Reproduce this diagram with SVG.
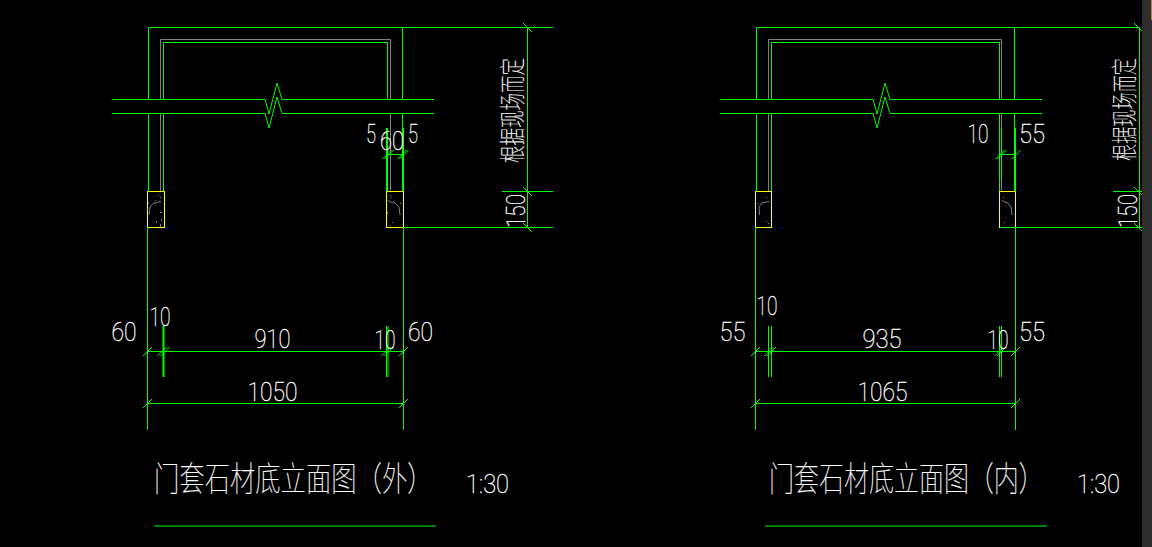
<svg xmlns="http://www.w3.org/2000/svg" width="1152" height="547" viewBox="0 0 1152 547">
<style>
.g{stroke:#00ff00;stroke-width:1;fill:none}
.t{stroke:#00ff00;stroke-width:2;fill:none}
.a{stroke:#808080;stroke-width:1;fill:none}
.y{stroke:#ffff00;stroke-width:1;fill:none}
.d{fill:#808080}
text{fill:#fff;stroke:#fff;stroke-width:.35;font-family:"Roboto","Liberation Sans",sans-serif;font-weight:100;font-size:26px}
.c{font-family:"Noto Sans CJK SC","Noto Sans CJK JP",sans-serif;font-weight:100;font-size:34px;stroke-width:.2}
.v{font-family:"Noto Sans CJK SC","Noto Sans CJK JP",sans-serif;font-weight:100;font-size:26px;stroke-width:.2}
</style>
<defs>
<path id="tf" class="g" d="M-4.500 4.500L4.500-4.500"/>
<path id="tb" class="g" d="M-4.500-4.500L4.500 4.500"/>
<path id="zz" class="g" d="M0 0L4 14.500L12-16.500L17 0"/>
</defs>
<rect width="1152" height="547" fill="#000"/>
<rect x="1142" y="0" width="10" height="547" fill="#2e2e2e"/>
<rect x="1151" y="0" width="1" height="20" fill="#b5803a"/>

<g id="view-outer">
<g id="frame-outer">
<path class="g" d="M148.500 99.500V27.500H553M402.500 27.500V99.500M148.500 113.500V191M402.500 113.500V128"/>
<path class="a" d="M160.500 99.500V39.500H390.500V99.500M160.500 113.500V191M390.500 113.500V191"/>
<path class="g" d="M163.500 99.500V42.500H387.500V99.500M163.500 113.500V191"/>
<path class="g" d="M112 99.500H265M282 99.500H434M112 113.500H265M282 113.500H434"/>
<use href="#zz" x="265" y="99.500"/><use href="#zz" x="265" y="113.500"/>
<path class="t" d="M387 128V191M403 128V191"/>
</g>
<g id="stone-left-outer">
<rect class="y" x="147.500" y="191.500" width="17" height="36"/>
<path class="a" d="M161 201.500L153 203.500L150 207L149 215"/>
<path class="d" d="M158 195h1v1h-1zM160 197h1v1h-1zM155 200h1v1h-1zM148 203h1v1h-1zM160 212h2v1h-2zM161 219h1v2h-1zM156 221h1v2h-1zM160 224h1v3h-1z"/>
</g>
<g id="stone-right-outer">
<rect class="y" x="386.500" y="191.500" width="17" height="36"/>
<path class="a" d="M389 201.500L395 203L399 207L400 215"/>
<path class="d" d="M390 195h1v1h-1zM391 197h1v1h-1zM388 200h1v1h-1zM400 203h1v1h-1zM387 212h1v2h-1zM392 222h1v1h-1zM389 225h1v1h-1z"/>
</g>
<g id="dims-outer">
<path class="g" d="M147.500 227V430M403.500 227V430M403.500 227.500H553M502 191.500H553M527.500 27.500V227.500M387 154.500H403M148 351.500H403M148 403.500H403"/>
<path class="t" d="M163.500 326V377"/>
<path class="g" d="M386.500 326V377M388 326V377"/>
<use href="#tb" x="527.500" y="27.500"/><use href="#tb" x="527.500" y="191.500"/><use href="#tb" x="527.500" y="227.500"/>
<use href="#tf" x="387" y="154.500"/><use href="#tf" x="389" y="154.500"/><use href="#tf" x="402" y="154.500"/><use href="#tf" x="404" y="154.500"/>
<use href="#tf" x="147.500" y="351.500"/><use href="#tf" x="162" y="351.500"/><use href="#tf" x="165" y="351.500"/><use href="#tf" x="386" y="351.500"/><use href="#tf" x="389" y="351.500"/><use href="#tf" x="403.500" y="351.500"/>
<use href="#tf" x="147.500" y="403.500"/><use href="#tf" x="403.500" y="403.500"/>
</g>
<g id="labels-outer">
<text x="371" y="143" text-anchor="middle" textLength="10" lengthAdjust="spacingAndGlyphs">5</text>
<text x="392" y="150" text-anchor="middle" textLength="24" lengthAdjust="spacingAndGlyphs">60</text>
<text x="413" y="143" text-anchor="middle" textLength="10" lengthAdjust="spacingAndGlyphs">5</text>
<text x="124" y="341" text-anchor="middle" textLength="25" lengthAdjust="spacingAndGlyphs">60</text>
<text x="160" y="326" text-anchor="middle" textLength="21" lengthAdjust="spacingAndGlyphs">10</text>
<text x="272.500" y="348" text-anchor="middle" textLength="36" lengthAdjust="spacingAndGlyphs">910</text>
<text x="385" y="349" text-anchor="middle" textLength="21" lengthAdjust="spacingAndGlyphs">10</text>
<text x="420.500" y="341" text-anchor="middle" textLength="25" lengthAdjust="spacingAndGlyphs">60</text>
<text x="272.500" y="401" text-anchor="middle" textLength="50" lengthAdjust="spacingAndGlyphs">1050</text>
<text class="v" transform="translate(522 163) rotate(-90)" textLength="105" lengthAdjust="spacingAndGlyphs">根据现场而定</text>
<text transform="translate(525 228) rotate(-90)" textLength="34" lengthAdjust="spacingAndGlyphs">150</text>
<text class="c" transform="translate(154 491) scale(.745 1)">门套石材底立面图（外）</text>
<text x="466" y="493" textLength="43" lengthAdjust="spacingAndGlyphs">1:30</text>
</g>
<path id="underline-outer" class="g" d="M154 526H436"/>
</g>

<g id="view-inner">
<g id="frame-inner">
<path class="g" d="M756.500 99.500V27.500H1139.500M1014.500 27.500V99.500M756.500 113.500V191M1014.500 113.500V128"/>
<path class="a" d="M768.500 99.500V39.500H1001.500V99.500M768.500 113.500V191M1001.500 113.500V128M1001.500 180V191"/>
<path class="g" d="M771.500 99.500V42.500H999.500V99.500M771.500 113.500V191M1001.500 128V180M999.500 113.500V191"/>
<path class="g" d="M720 99.500H873M890 99.500H1042M720 113.500H873M890 113.500H1042"/>
<use href="#zz" x="873" y="99.500"/><use href="#zz" x="873" y="113.500"/>
<path class="t" d="M1015 128V191"/>
</g>
<g id="stone-left-inner">
<rect class="y" x="755.500" y="191.500" width="16" height="36"/>
<path class="a" d="M769 201.500L762 203L759 207L759.500 215"/>
<path class="d" d="M766 197h1v1h-1zM758 203h1v1h-1zM766 221h1v1h-1zM768 223h1v1h-1z"/>
</g>
<g id="stone-right-inner">
<rect class="y" x="999.500" y="191.500" width="16" height="36"/>
<path class="a" d="M1003 201.500L1008 203L1011 207L1012 215"/>
<path class="d" d="M1003 197h1v1h-1zM1002 200h1v1h-1zM1004 222h1v1h-1z"/>
</g>
<g id="dims-inner">
<path class="g" d="M755.500 227V430M1015.500 227V430M1000 227.500H1142M1113 191.500H1142M1139.500 27.500V227.500M1000 154.500H1015M756 351.500H1016M756 403.500H1016"/>
<path class="g" d="M768.500 326V377M771.500 326V377M999.500 326V377M1001.500 326V377"/>
<path class="g" d="M1134 23L1142 31M1134 187L1142 195M1134 223L1142 231"/>
<use href="#tf" x="1000" y="154.500"/><use href="#tf" x="1002" y="154.500"/><use href="#tf" x="1016" y="154.500"/>
<use href="#tf" x="755.500" y="351.500"/><use href="#tf" x="769" y="351.500"/><use href="#tf" x="771.500" y="351.500"/><use href="#tf" x="999" y="351.500"/><use href="#tf" x="1001.500" y="351.500"/><use href="#tf" x="1015.500" y="351.500"/>
<use href="#tf" x="755.500" y="403.500"/><use href="#tf" x="1015.500" y="403.500"/>
</g>
<g id="labels-inner">
<text x="978" y="143" text-anchor="middle" textLength="21" lengthAdjust="spacingAndGlyphs">10</text>
<text x="1032" y="143" text-anchor="middle" textLength="26" lengthAdjust="spacingAndGlyphs">55</text>
<text x="732.500" y="341" text-anchor="middle" textLength="26" lengthAdjust="spacingAndGlyphs">55</text>
<text x="767" y="315" text-anchor="middle" textLength="21" lengthAdjust="spacingAndGlyphs">10</text>
<text x="882" y="348" text-anchor="middle" textLength="39" lengthAdjust="spacingAndGlyphs">935</text>
<text x="998" y="349" text-anchor="middle" textLength="21" lengthAdjust="spacingAndGlyphs">10</text>
<text x="1032" y="341" text-anchor="middle" textLength="26" lengthAdjust="spacingAndGlyphs">55</text>
<text x="882.500" y="401" text-anchor="middle" textLength="50" lengthAdjust="spacingAndGlyphs">1065</text>
<text class="v" transform="translate(1134 161) rotate(-90)" textLength="103" lengthAdjust="spacingAndGlyphs">根据现场而定</text>
<text transform="translate(1137 228) rotate(-90)" textLength="34" lengthAdjust="spacingAndGlyphs">150</text>
<text class="c" transform="translate(769 491) scale(.735 1)">门套石材底立面图（内）</text>
<text x="1077" y="493" textLength="43" lengthAdjust="spacingAndGlyphs">1:30</text>
</g>
<path id="underline-inner" class="g" d="M765 526H1047"/>
</g>
</svg>
